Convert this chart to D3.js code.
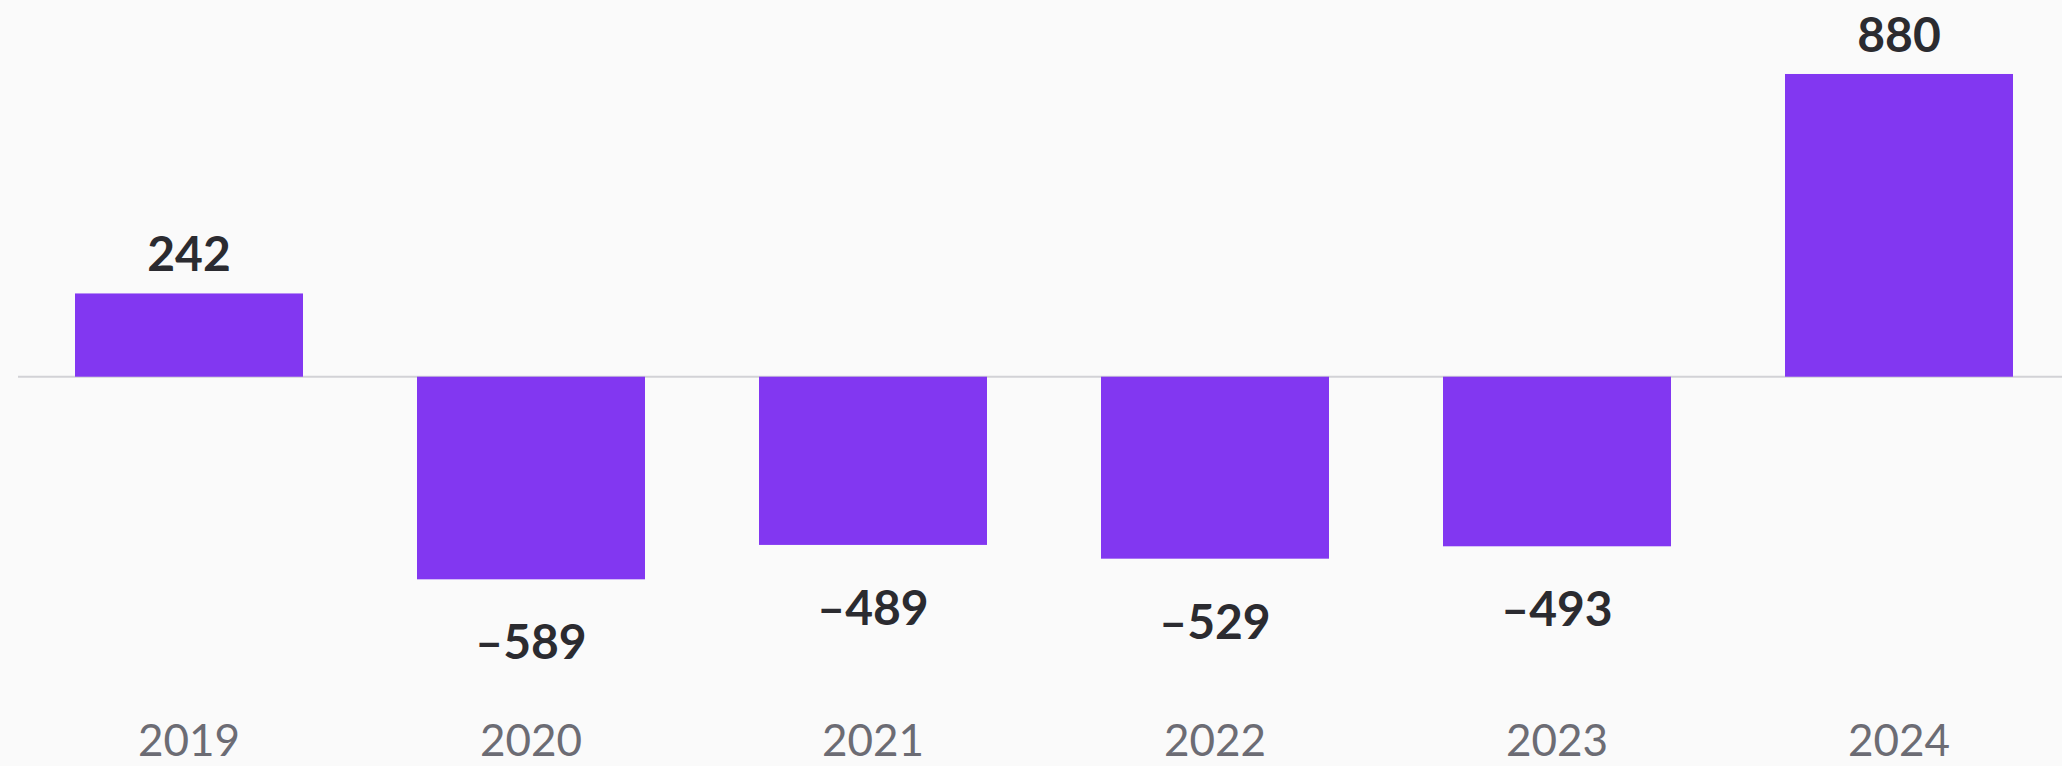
<!DOCTYPE html>
<html>
<head>
<meta charset="utf-8">
<script src="https://cdn.jsdelivr.net/npm/d3@7"></script>
<style>
  html, body { margin: 0; padding: 0; background: #fafafa; }
  svg { display: block; }
</style>
</head>
<body>
<svg id="chart" width="2062" height="766"></svg>
<script>
const years = ["2019", "2020", "2021", "2022", "2023", "2024"];
const values = [242, -589, -489, -529, -493, 880];

const W = 2062, H = 766;
const svg = d3.select("#chart");

const x = d3.scaleBand()
  .domain(years)
  .range([18, 2070])
  .paddingInner(1/3)
  .paddingOuter(1/6);

const zeroY = 376.7, pxPerUnit = 0.344;
const y = d3.scaleLinear()
  .domain([-600, 900])
  .range([zeroY + 600 * pxPerUnit, zeroY - 900 * pxPerUnit]);

const data = years.map((yr, i) => ({ year: yr, value: values[i] }));

// baseline
svg.append("line")
  .attr("x1", 18).attr("x2", W)
  .attr("y1", y(0)).attr("y2", y(0))
  .attr("stroke", "#d2d2d6")
  .attr("stroke-width", 2);

// bars
svg.selectAll("rect.bar")
  .data(data)
  .join("rect")
  .attr("class", "bar")
  .attr("x", d => x(d.year))
  .attr("width", x.bandwidth())
  .attr("y", d => Math.min(y(d.value), y(0)))
  .attr("height", d => Math.abs(y(d.value) - y(0)))
  .attr("fill", "#8237f1");

// value labels
const fmt = v => (v < 0 ? "\u2013" + Math.abs(v) : String(v));
svg.selectAll("text.val")
  .data(data)
  .join("text")
  .attr("class", "val")
  .attr("x", d => x(d.year) + x.bandwidth() / 2)
  .attr("y", d => d.value >= 0 ? y(d.value) - 22 : y(d.value) + 80)
  .attr("text-anchor", "middle")
  .attr("font-family", "Lato, 'Open Sans', sans-serif")
  .attr("font-weight", "bold")
  .attr("font-size", 48)
  .attr("fill", "#2b2b30")
  .text(d => fmt(d.value));

// x axis labels
const xAxis = d3.axisBottom(x).tickSize(0).tickPadding(0);
const gx = svg.append("g")
  .attr("transform", "translate(0,724)")
  .call(xAxis);
gx.select(".domain").remove();
gx.selectAll("text")
  .attr("dy", 0)
  .attr("y", 32)
  .attr("font-family", "Lato, 'Open Sans', sans-serif")
  .attr("font-size", 44)
  .attr("fill", "#6c6c74");
</script>
</body>
</html>
